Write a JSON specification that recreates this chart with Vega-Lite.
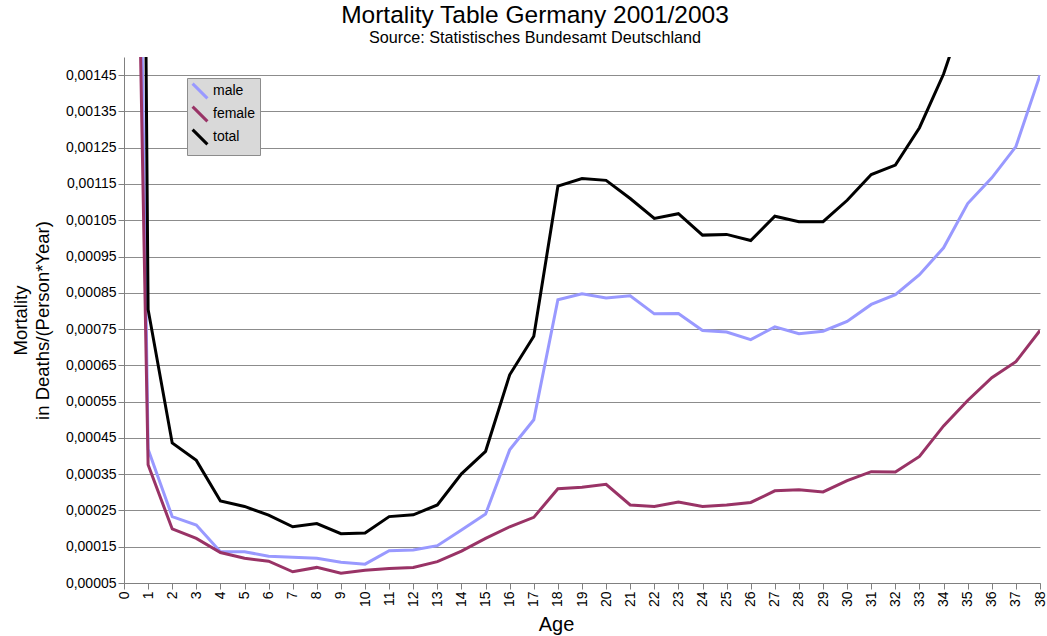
{
  "$schema": "https://vega.github.io/schema/vega-lite/v6.json",
  "autosize": "none",
  "padding": {"left": 124, "top": 57, "right": 7, "bottom": 53},
  "width": 916,
  "height": 526,
  "background": "white",
  "title": {
    "text": "Mortality Table Germany 2001/2003",
    "subtitle": "Source: Statistisches Bundesamt Deutschland",
    "font": "Liberation Sans",
    "subtitleFont": "Liberation Sans",
    "fontSize": 24.5,
    "fontWeight": "normal",
    "subtitleFontSize": 16.2,
    "subtitleColor": "black",
    "subtitlePadding": 1,
    "color": "black",
    "anchor": "middle",
    "dx": -47,
    "offset": 10
  },
  "config": {
    "view": {"stroke": null},
    "font": "Liberation Sans"
  },
  "data": {
    "values": [
      {"age": 0, "sex": "male", "mortality": 0.0049},
      {"age": 1, "sex": "male", "mortality": 0.000419},
      {"age": 2, "sex": "male", "mortality": 0.000233},
      {"age": 3, "sex": "male", "mortality": 0.00021},
      {"age": 4, "sex": "male", "mortality": 0.000136},
      {"age": 5, "sex": "male", "mortality": 0.000136},
      {"age": 6, "sex": "male", "mortality": 0.000124},
      {"age": 7, "sex": "male", "mortality": 0.000121},
      {"age": 8, "sex": "male", "mortality": 0.000118},
      {"age": 9, "sex": "male", "mortality": 0.000107},
      {"age": 10, "sex": "male", "mortality": 0.000102},
      {"age": 11, "sex": "male", "mortality": 0.000139},
      {"age": 12, "sex": "male", "mortality": 0.000141},
      {"age": 13, "sex": "male", "mortality": 0.000153},
      {"age": 14, "sex": "male", "mortality": 0.000196},
      {"age": 15, "sex": "male", "mortality": 0.00024},
      {"age": 16, "sex": "male", "mortality": 0.000417},
      {"age": 17, "sex": "male", "mortality": 0.0005},
      {"age": 18, "sex": "male", "mortality": 0.000831},
      {"age": 19, "sex": "male", "mortality": 0.000847},
      {"age": 20, "sex": "male", "mortality": 0.000836},
      {"age": 21, "sex": "male", "mortality": 0.000842},
      {"age": 22, "sex": "male", "mortality": 0.000792},
      {"age": 23, "sex": "male", "mortality": 0.000793},
      {"age": 24, "sex": "male", "mortality": 0.000746},
      {"age": 25, "sex": "male", "mortality": 0.000742},
      {"age": 26, "sex": "male", "mortality": 0.000721},
      {"age": 27, "sex": "male", "mortality": 0.000756},
      {"age": 28, "sex": "male", "mortality": 0.000737},
      {"age": 29, "sex": "male", "mortality": 0.000744},
      {"age": 30, "sex": "male", "mortality": 0.000771},
      {"age": 31, "sex": "male", "mortality": 0.000818},
      {"age": 32, "sex": "male", "mortality": 0.000845},
      {"age": 33, "sex": "male", "mortality": 0.0009},
      {"age": 34, "sex": "male", "mortality": 0.000974},
      {"age": 35, "sex": "male", "mortality": 0.001096},
      {"age": 36, "sex": "male", "mortality": 0.001167},
      {"age": 37, "sex": "male", "mortality": 0.001253},
      {"age": 38, "sex": "male", "mortality": 0.00145},
      {"age": 0, "sex": "female", "mortality": 0.004},
      {"age": 1, "sex": "female", "mortality": 0.000376},
      {"age": 2, "sex": "female", "mortality": 0.000199},
      {"age": 3, "sex": "female", "mortality": 0.000173},
      {"age": 4, "sex": "female", "mortality": 0.000134},
      {"age": 5, "sex": "female", "mortality": 0.000118},
      {"age": 6, "sex": "female", "mortality": 0.00011},
      {"age": 7, "sex": "female", "mortality": 0.000081},
      {"age": 8, "sex": "female", "mortality": 0.000093},
      {"age": 9, "sex": "female", "mortality": 0.000077},
      {"age": 10, "sex": "female", "mortality": 0.000085},
      {"age": 11, "sex": "female", "mortality": 0.00009},
      {"age": 12, "sex": "female", "mortality": 0.000093},
      {"age": 13, "sex": "female", "mortality": 0.000109},
      {"age": 14, "sex": "female", "mortality": 0.000138},
      {"age": 15, "sex": "female", "mortality": 0.000173},
      {"age": 16, "sex": "female", "mortality": 0.000205},
      {"age": 17, "sex": "female", "mortality": 0.000231},
      {"age": 18, "sex": "female", "mortality": 0.00031},
      {"age": 19, "sex": "female", "mortality": 0.000314},
      {"age": 20, "sex": "female", "mortality": 0.000322},
      {"age": 21, "sex": "female", "mortality": 0.000265},
      {"age": 22, "sex": "female", "mortality": 0.000261},
      {"age": 23, "sex": "female", "mortality": 0.000273},
      {"age": 24, "sex": "female", "mortality": 0.000261},
      {"age": 25, "sex": "female", "mortality": 0.000265},
      {"age": 26, "sex": "female", "mortality": 0.000272},
      {"age": 27, "sex": "female", "mortality": 0.000304},
      {"age": 28, "sex": "female", "mortality": 0.000307},
      {"age": 29, "sex": "female", "mortality": 0.000301},
      {"age": 30, "sex": "female", "mortality": 0.000332},
      {"age": 31, "sex": "female", "mortality": 0.000357},
      {"age": 32, "sex": "female", "mortality": 0.000356},
      {"age": 33, "sex": "female", "mortality": 0.000399},
      {"age": 34, "sex": "female", "mortality": 0.000483},
      {"age": 35, "sex": "female", "mortality": 0.000553},
      {"age": 36, "sex": "female", "mortality": 0.000616},
      {"age": 37, "sex": "female", "mortality": 0.00066},
      {"age": 38, "sex": "female", "mortality": 0.000746},
      {"age": 0, "sex": "total", "mortality": 0.0089},
      {"age": 1, "sex": "total", "mortality": 0.000804},
      {"age": 2, "sex": "total", "mortality": 0.000436},
      {"age": 3, "sex": "total", "mortality": 0.000388},
      {"age": 4, "sex": "total", "mortality": 0.000276},
      {"age": 5, "sex": "total", "mortality": 0.000261},
      {"age": 6, "sex": "total", "mortality": 0.000237},
      {"age": 7, "sex": "total", "mortality": 0.000205},
      {"age": 8, "sex": "total", "mortality": 0.000214},
      {"age": 9, "sex": "total", "mortality": 0.000186},
      {"age": 10, "sex": "total", "mortality": 0.000188},
      {"age": 11, "sex": "total", "mortality": 0.000233},
      {"age": 12, "sex": "total", "mortality": 0.000238},
      {"age": 13, "sex": "total", "mortality": 0.000265},
      {"age": 14, "sex": "total", "mortality": 0.000351},
      {"age": 15, "sex": "total", "mortality": 0.000413},
      {"age": 16, "sex": "total", "mortality": 0.000624},
      {"age": 17, "sex": "total", "mortality": 0.00073},
      {"age": 18, "sex": "total", "mortality": 0.001144},
      {"age": 19, "sex": "total", "mortality": 0.001165},
      {"age": 20, "sex": "total", "mortality": 0.00116},
      {"age": 21, "sex": "total", "mortality": 0.00111},
      {"age": 22, "sex": "total", "mortality": 0.001055},
      {"age": 23, "sex": "total", "mortality": 0.001068},
      {"age": 24, "sex": "total", "mortality": 0.001009},
      {"age": 25, "sex": "total", "mortality": 0.001011},
      {"age": 26, "sex": "total", "mortality": 0.000994},
      {"age": 27, "sex": "total", "mortality": 0.001061},
      {"age": 28, "sex": "total", "mortality": 0.001046},
      {"age": 29, "sex": "total", "mortality": 0.001046},
      {"age": 30, "sex": "total", "mortality": 0.001105},
      {"age": 31, "sex": "total", "mortality": 0.001176},
      {"age": 32, "sex": "total", "mortality": 0.001202},
      {"age": 33, "sex": "total", "mortality": 0.001305},
      {"age": 34, "sex": "total", "mortality": 0.001453},
      {"age": 35, "sex": "total", "mortality": 0.00165},
      {"age": 36, "sex": "total", "mortality": 0.00178},
      {"age": 37, "sex": "total", "mortality": 0.00191},
      {"age": 38, "sex": "total", "mortality": 0.0022}
    ]
  },
  "mark": {"type": "line", "clip": true, "strokeWidth": 3, "strokeJoin": "miter"},
  "encoding": {
    "x": {
      "field": "age",
      "type": "quantitative",
      "scale": {"domain": [0, 38], "nice": false, "zero": false},
      "axis": {
        "title": "Age",
        "titleFontSize": 20,
        "titleFontWeight": "normal",
        "titleColor": "black",
        "titleX": 432,
        "titlePadding": 8,
        "values": [0,1,2,3,4,5,6,7,8,9,10,11,12,13,14,15,16,17,18,19,20,21,22,23,24,25,26,27,28,29,30,31,32,33,34,35,36,37,38],
        "labelAngle": -90,
        "labelAlign": "right",
        "labelBaseline": "middle",
        "labelFontSize": 14,
        "labelColor": "black",
        "labelPadding": 2,
        "labelFlush": false,
        "labelOverlap": false,
        "tickSize": 6,
        "tickColor": "#808080",
        "domainColor": "#808080",
        "grid": false
      }
    },
    "y": {
      "field": "mortality",
      "type": "quantitative",
      "scale": {"domain": [0.00005, 0.0015], "nice": false, "zero": false},
      "axis": {
        "title": ["Mortality", "in Deaths/(Person*Year)"],
        "titleFontSize": 18.5,
        "titleFontWeight": "normal",
        "titleColor": "black",
        "titlePadding": 13,
        "titleLineHeight": 22,
        "values": [0.00005,0.00015,0.00025,0.00035,0.00045,0.00055,0.00065,0.00075,0.00085,0.00095,0.00105,0.00115,0.00125,0.00135,0.00145],
        "labelExpr": "replace(format(datum.value, '.5f'), '.', ',')",
        "labelFontSize": 14,
        "labelColor": "black",
        "labelPadding": 2,
        "labelFlush": false,
        "labelOverlap": false,
        "tickSize": 6,
        "tickColor": "#808080",
        "domainColor": "#808080",
        "grid": true,
        "gridColor": "#8c8c8c",
        "gridWidth": 1
      }
    },
    "color": {
      "field": "sex",
      "type": "nominal",
      "sort": ["male", "female", "total"],
      "scale": {"domain": ["male", "female", "total"], "range": ["#9999ff", "#993366", "#000000"]},
      "legend": {
        "title": null,
        "orient": "none",
        "legendX": 63,
        "legendY": 21,
        "fillColor": "#d9d9d9",
        "strokeColor": "#8c8c8c",
        "padding": 4,
        "symbolType": "M-1,-1L1,1",
        "symbolSize": 220,
        "symbolStrokeWidth": 3,
        "labelFontSize": 14,
        "labelColor": "black",
        "labelOffset": 4,
        "rowPadding": -16
      }
    }
  }
}
